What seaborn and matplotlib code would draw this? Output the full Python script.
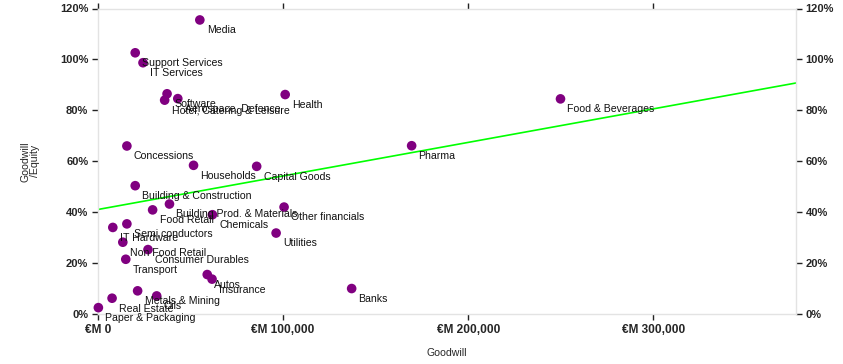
import matplotlib
matplotlib.use('Agg')
import matplotlib.pyplot as plt
import matplotlib.ticker as mticker
import seaborn as sns
import pandas as pd


# sector data
#==============================================================================
sectors = ['Media', 'Support Services', 'IT Services', 'Software',
           'Hotel, Catering & Leisure', 'Aerospace, Defence', 'Health',
           'Food & Beverages', 'Pharma', 'Banks', 'Concessions', 'Households',
           'Capital Goods', 'Building & Construction',
           'Building Prod. & Materials', 'Food Retail', 'Chemicals',
           'Other financials', 'Utilities', 'Semi conductors', 'IT Hardware',
           'Non Food Retail', 'Consumer Durables', 'Transport', 'Autos',
           'Insurance', 'Metals & Mining', 'Oils', 'Real Estate',
           'Paper & Packaging']

goodwill = [55000, 20100, 24300, 37300, 36000, 43100, 101100, 249800, 169400,
            137000, 15600, 51600, 85700, 20100, 38600, 29500, 61800, 100500,
            96200, 15600, 8000, 13400, 27000, 15000, 59000, 61600, 21400,
            31700, 7600, 200]

goodwill_equity = [1.155, 1.026, 0.987, 0.865, 0.840, 0.846, 0.862, 0.845,
                   0.661, 0.100, 0.660, 0.584, 0.580, 0.504, 0.432, 0.409,
                   0.390, 0.420, 0.318, 0.354, 0.340, 0.282, 0.253, 0.215,
                   0.155, 0.137, 0.091, 0.071, 0.062, 0.025]

x_ticks = [0, 100000, 200000, 300000]
y_ticks = [0, 0.2, 0.4, 0.6, 0.8, 1.0, 1.2]

df = pd.DataFrame({'sector': sectors, 'goodwill': goodwill,
                   'ratio': goodwill_equity})

#==============================================================================
sns.set_style('white')
plt.rcParams['font.family'] = ['Liberation Sans', 'DejaVu Sans']

fig = plt.figure(figsize=(8.43, 3.64), dpi=100)
ax = fig.add_axes([98 / 843, 1 - 314 / 364, 698 / 843, 305.5 / 364])
ax.set_xlim(0, 377000)
ax.set_ylim(0, 1.2)

# trend line (OLS over all sectors, stretched to the axis edges)
sns.regplot(data=df, x='goodwill', y='ratio', ax=ax, scatter=False, ci=None,
            truncate=False, line_kws={'color': '#00ff00', 'lw': 1.2})

sns.scatterplot(data=df, x='goodwill', y='ratio', ax=ax, color='#800080',
                s=48, edgecolor='none', zorder=3, clip_on=False)

for name, gx, gy in zip(sectors, goodwill, goodwill_equity):
    ax.annotate(name, (gx, gy), xytext=(5, -7.5), textcoords='offset points',
                ha='left', va='center', fontsize=7.6, color='#111111',
                zorder=4)

ax.set_xlim(0, 377000)
ax.set_ylim(0, 1.2)
ax.set_xticks(x_ticks)
ax.set_yticks(y_ticks)
ax.xaxis.set_major_formatter(mticker.FuncFormatter(lambda v, p: '€M {:,.0f}'.format(v)))
ax.yaxis.set_major_formatter(mticker.FuncFormatter(lambda v, p: '{:.0f}%'.format(v * 100)))

ax.tick_params(axis='both', which='both', direction='out', length=4, width=1,
               color='#222222', labelsize=8, pad=3,
               bottom=True, top=True, left=True, right=True,
               labelleft=True, labelright=True, labelbottom=True, labeltop=False)
ax.xaxis.set_tick_params(pad=3, labelsize=8.6)
for t in ax.yaxis.get_major_ticks():
    t.label1.set_fontweight('bold')
    t.label2.set_fontweight('bold')
for t in ax.xaxis.get_major_ticks():
    t.label1.set_fontweight('bold')

for sp in ax.spines.values():
    sp.set_color('#e3e3e3')
    sp.set_linewidth(1)

ax.set_xlabel('Goodwill', fontsize=7.6, labelpad=9)
ax.set_ylabel('Goodwill\n/Equity', fontsize=7.6, labelpad=14, linespacing=1.0)

plt.savefig('out.png', dpi=100)
plt.close()
